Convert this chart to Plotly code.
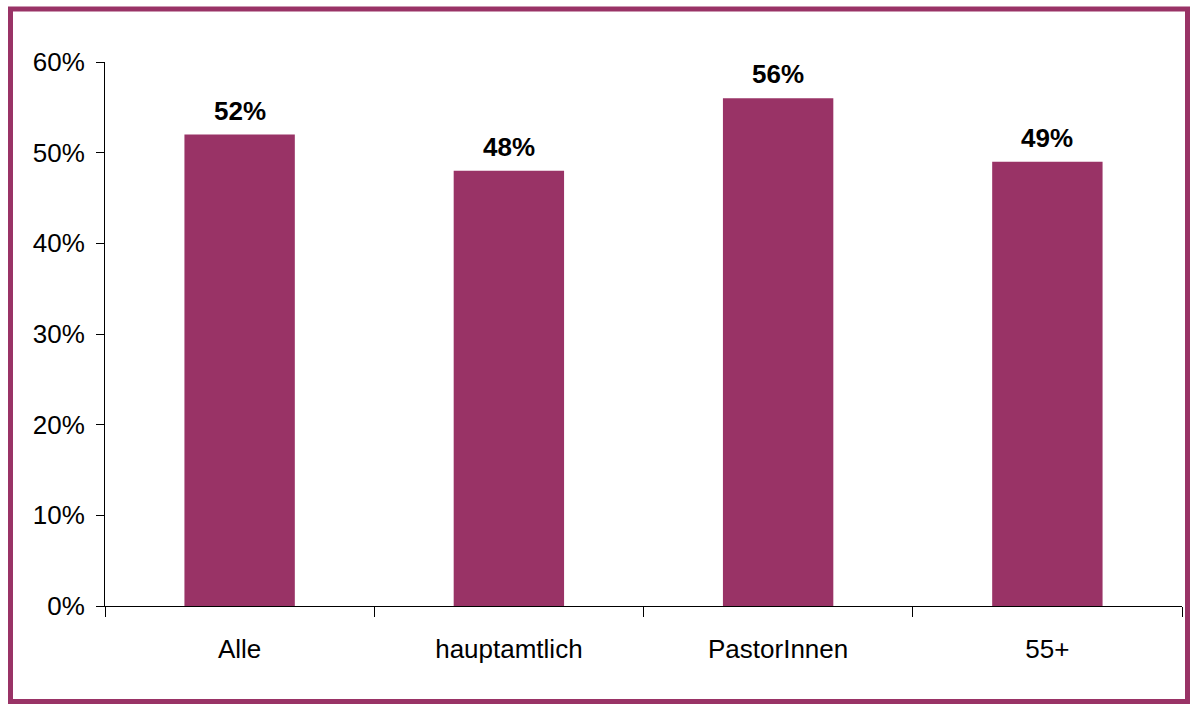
import plotly.graph_objects as go

categories = ["Alle", "hauptamtlich", "PastorInnen", "55+"]
values = [0.52, 0.48, 0.56, 0.49]
value_labels = ["52%", "48%", "56%", "49%"]
y_tickvals = [0, 0.1, 0.2, 0.3, 0.4, 0.5, 0.6]
y_ticktext = ["0%", "10%", "20%", "30%", "40%", "50%", "60%"]

BAR = "#993366"
FONT = "Liberation Sans, Arial, sans-serif"

W, H = 1190, 704
L, R, T, B = 105, 8, 62, 98
pw, ph = W - L - R, H - T - B

def px_x(p):
    return (p - L) / pw

def px_y(p):
    return (H - B - p) / ph

fig = go.Figure(go.Bar(
    x=categories, y=values, marker_color=BAR, marker_line_width=0,
    hoverinfo="x+y",
))

for c, v, t in zip(categories, values, value_labels):
    fig.add_annotation(x=c, y=v, text=t, showarrow=False, yanchor="bottom",
                       yshift=7, font=dict(family=FONT, size=26, color="black",
                                           weight="bold"))

fig.update_layout(
    width=W, height=H,
    margin=dict(l=L, r=R, t=T, b=B),
    paper_bgcolor="white", plot_bgcolor="white",
    bargap=0.59, showlegend=False,
    font=dict(family=FONT, size=26, color="black"),
    xaxis=dict(range=[-0.5, 3.5], showline=True, linecolor="black", linewidth=1,
               ticks="outside", tickson="boundaries", ticklen=10, tickcolor="black",
               tickfont=dict(size=26), ticklabelstandoff=20, showgrid=False),
    yaxis=dict(range=[0, 0.6], tickvals=y_tickvals, ticktext=y_ticktext,
               showline=True, linecolor="black", linewidth=1,
               ticks="outside", ticklen=8, tickcolor="black", showgrid=False,
               zeroline=False, tickfont=dict(size=26), ticklabelstandoff=6),
    shapes=[dict(type="rect", xref="paper", yref="paper",
                 x0=px_x(10.5), x1=px_x(1187.5), y0=px_y(701.5), y1=px_y(9),
                 line=dict(color=BAR, width=5), fillcolor="rgba(0,0,0,0)")],
)

fig.write_html("out.html", config={"displayModeBar": False},
               post_script="document.body.style.margin='0';document.body.style.overflow='hidden';")
